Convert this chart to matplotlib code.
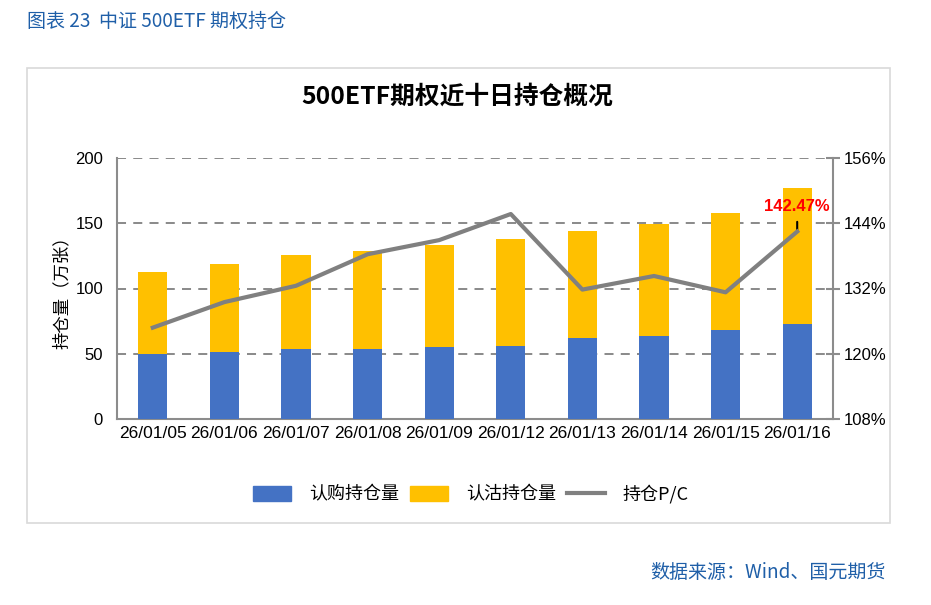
import matplotlib
matplotlib.use("Agg")
import matplotlib.pyplot as plt
from matplotlib.patches import Rectangle
from matplotlib.lines import Line2D
import numpy as np

plt.rcParams['font.family'] = ['Liberation Sans', 'Noto Sans CJK SC', 'DejaVu Sans']
CJK = ['Noto Sans CJK SC', 'DejaVu Sans']

dates = ['26/01/05', '26/01/06', '26/01/07', '26/01/08', '26/01/09',
         '26/01/12', '26/01/13', '26/01/14', '26/01/15', '26/01/16']
call_oi = [50, 51.5, 53.5, 53.8, 55.3, 56, 62, 63.7, 68.3, 73]
put_oi = [62.8, 67.5, 72.2, 75, 78, 82, 82, 85.8, 89.7, 104]
pc_ratio = [124.8, 129.5, 132.5, 138.3, 140.9, 145.7, 131.8, 134.3, 131.3, 142.47]
left_ticks = [0, 50, 100, 150, 200]
right_ticks = [108, 120, 132, 144, 156]

blue = '#4472C4'
yellow = '#FFC000'
gray = '#808080'
axis_gray = '#8C8C8C'

fig = plt.figure(figsize=(9.31, 6.05), dpi=100)

# outer frame
fig.patches.append(Rectangle((27/931, 1-523/605), (890-27)/931, (523-68)/605,
                             transform=fig.transFigure, fill=False,
                             edgecolor='#D9D9D9', linewidth=1.2))

fig.text(27/931, 1-21/605, '图表 23  中证 500ETF 期权持仓', family=CJK,
         color='#1F5FA8', fontsize=13.7, va='center', ha='left')
fig.text(886/931, 1-572/605, '数据来源：Wind、国元期货', family=CJK,
         color='#1F5FA8', fontsize=13.7, va='center', ha='right')
fig.text(457/931, 1-97/605, '500ETF期权近十日持仓概况', family=CJK,
         fontsize=17.8, fontweight='bold', va='center', ha='center', color='#000000')

ax = fig.add_axes([117/931, 1-419/605, (833-117)/931, (419-158)/605])
x = np.arange(len(dates))
w = 0.41
ax.bar(x, call_oi, width=w, color=blue, zorder=3, label='认购持仓量')
ax.bar(x, put_oi, width=w, bottom=call_oi, color=yellow, zorder=3, label='认沽持仓量')
ax.set_xlim(-0.5, len(dates)-0.5)
ax.set_ylim(0, 200)
ax.set_yticks(left_ticks)
ax.set_yticklabels([str(t) for t in left_ticks], fontsize=12)
ax.set_xticks(x)
ax.set_xticklabels(dates, fontsize=12.5)
ax.tick_params(axis='y', length=0, pad=10)
ax.tick_params(axis='x', length=0, pad=5)
for yv in left_ticks[1:]:
    ax.axhline(yv, color=gray, linestyle=(0, (5, 4)), linewidth=1.3, zorder=1)
ax.spines['top'].set_visible(False)
ax.spines['right'].set_visible(False)
ax.spines['left'].set_color(axis_gray)
ax.spines['left'].set_linewidth(1.5)
ax.spines['bottom'].set_color(axis_gray)
ax.spines['bottom'].set_linewidth(1.5)
ax.set_ylabel('持仓量（万张）', family=CJK, fontsize=12.5, labelpad=3)

ax2 = ax.twinx()
ax2.plot(x, pc_ratio, color=gray, linewidth=3, zorder=4, label='持仓P/C')
ax2.set_ylim(108, 156)
ax2.set_yticks(right_ticks)
ax2.set_yticklabels([f'{t}%' for t in right_ticks], fontsize=12)
ax2.tick_params(axis='y', direction='inout', length=10, width=1.5, color=axis_gray, pad=3)
for s in ['top', 'left', 'bottom']:
    ax2.spines[s].set_visible(False)
ax2.spines['right'].set_color(axis_gray)
ax2.spines['right'].set_linewidth(1.5)

# annotation of last point
ax2.annotate(f'{pc_ratio[-1]:.2f}%', xy=(x[-1], pc_ratio[-1]), xytext=(0, 18),
             textcoords='offset points', ha='center', va='center', color='#FF0000',
             fontsize=12, fontweight='bold')
ax2.annotate('', xy=(x[-1], pc_ratio[-1]), xytext=(0, 7),
             textcoords='offset points',
             arrowprops=dict(arrowstyle='-', color='black', lw=1.5,
                             shrinkA=0, shrinkB=0.5))

handles = [Rectangle((0, 0), 1, 1, color=blue), Rectangle((0, 0), 1, 1, color=yellow),
           Line2D([], [], color=gray, linewidth=3)]
labels = ['认购持仓量', '认沽持仓量', '持仓P/C']
fig.legend(handles, labels, loc='center', bbox_to_anchor=(471/931, 1-494/605),
           ncol=3, frameon=False, prop={'family': CJK, 'size': 13},
           handlelength=2.1, handleheight=0.9, columnspacing=0.6, handletextpad=1.0)

fig.savefig('out.png', dpi=100)
